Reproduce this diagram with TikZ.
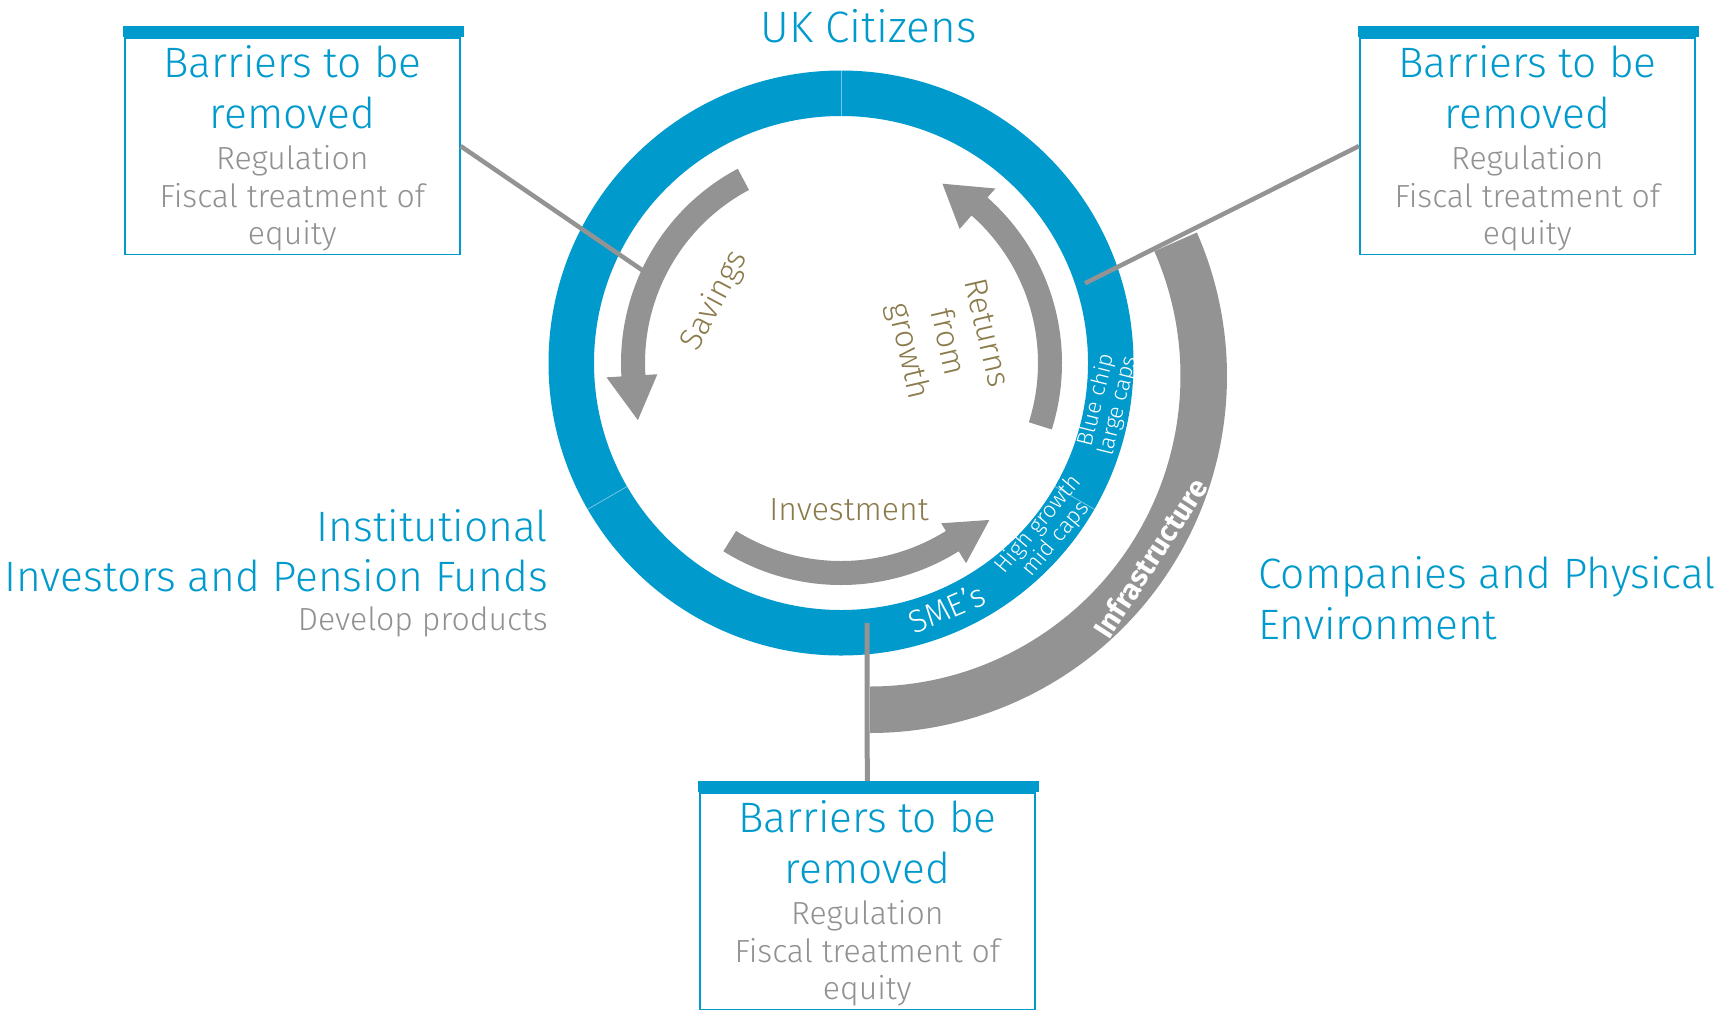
\documentclass[tikz,border=0pt]{standalone}
\usepackage{fontspec}
\setmainfont{Fira Sans Light}
\newfontfamily\boldf{Fira Sans}
\usetikzlibrary{calc}
\definecolor{kblue}{RGB}{0,154,205}
\definecolor{kgray}{RGB}{147,147,147}
\definecolor{ktext}{RGB}{145,145,145}
\definecolor{kolive}{RGB}{139,123,76}
\begin{document}
\begin{tikzpicture}[x=1pt,y=1pt,
  hdr/.style={text=kblue, font=\fontsize{42.5}{50}\selectfont, inner sep=0pt},
  sub/.style={text=ktext, font=\fontsize{32}{38}\selectfont, inner sep=0pt},
  flow/.style={text=kolive, font=\fontsize{32}{40}\selectfont, inner sep=0pt},
  ringlbl/.style={text=white, font=\fontsize{22.5}{20.5}\selectfont, align=center, inner sep=0pt},
  boxframe/.style={draw=kblue, line width=1.6pt, minimum width=335pt, minimum height=216.5pt, inner sep=0pt, anchor=north west},
  conn/.style={draw=kgray, line width=4.5pt},
  boxbar/.style={fill=kblue}
]
\fill[white] (0,0) rectangle (1730,-1009);
\coordinate (C) at (841,-363);
\coordinate (G) at (870,-376);

% blue ring
\fill[kblue, even odd rule] (C) circle[radius=292.5] circle[radius=247];
\foreach \a in {90,210,-30}
  \draw[white, opacity=0.45, line width=0.8pt] ($(C)+(\a:247)$) -- ($(C)+(\a:292.5)$);

% infrastructure band
\begin{scope}[shift={(G)}]
\fill[kgray] (-90:357) arc[start angle=-90, end angle=23.7, radius=357]
  -- (23.7:310.5) arc[start angle=23.7, end angle=-90, radius=310.5] -- cycle;
\end{scope}

% flow arrows
\begin{scope}[shift={(C)}]
\fill[kgray] (118:220) arc[start angle=118, end angle=183.5, radius=220]
  -- (183.5:235) -- (195.7:211) -- (183.5:184) -- (183.5:196)
  arc[start angle=183.5, end angle=118, radius=196] -- cycle;
\fill[kgray] (-17.5:221) arc[start angle=-17.5, end angle=48.5, radius=221]
  -- (48.5:233) -- (60.5:206) -- (48.5:179) -- (48.5:197)
  arc[start angle=48.5, end angle=-17.5, radius=197] -- cycle;
\fill[kgray] (238:222) arc[start angle=238, end angle=302, radius=222]
  -- (302:236) -- (313.4:216) -- (302:189) -- (302:198)
  arc[start angle=302, end angle=238, radius=198] -- cycle;
\end{scope}

% boxes
\node[boxframe] (bl) at (124,-37) {};
\node[boxframe] (br) at (1359,-37) {};
\node[boxframe] (bb) at (699,-792) {};

% connectors
\coordinate (lend) at (642,-270);
\coordinate (rend) at (1085,-283.3);
\coordinate (bend) at (867,-623);
\draw[conn] (bl.east) -- (lend);
\draw[conn] (br.west) -- (rend);
\draw[conn, line width=5pt] (bb.north) -- (bend);

\foreach \b in {bl,br,bb}
  \fill[boxbar] ($(\b.north west)+(-0.8,11.3)$) rectangle ($(\b.north east)+(3,0)$);

% box texts
\foreach \b in {bl,br,bb}{
  \node[hdr, anchor=base] (\b1) at ($(\b.north)+(0,-40.5)$) {Barriers to be};
  \node[hdr, anchor=base] (\b2) at ($(\b.north)+(0,-91.8)$) {removed};
  \node[sub, anchor=base] (\b3) at ($(\b.north)+(0,-132.8)$) {Regulation};
  \node[sub, anchor=base] (\b4) at ($(\b.north)+(0,-170.5)$) {Fiscal treatment of};
  \node[sub, anchor=base] (\b5) at ($(\b.north)+(0,-207.2)$) {equity};
}

% outer labels
\node[hdr, font=\fontsize{44}{50}\selectfont, anchor=base] (uk) at (868.5,-42.3) {UK Citizens};
\node[hdr, anchor=base east] (inst1) at (548,-541) {Institutional};
\node[hdr, anchor=base east] (inst2) at (548,-591) {Investors and Pension Funds};
\node[sub, anchor=base east] (inst3) at (548,-630.7) {Develop products};
\node[hdr, anchor=base west] (comp1) at (1258,-588.3) {Companies and Physical};
\node[hdr, anchor=base west] (comp2) at (1258,-639.3) {Environment};

% inner flow labels
\node[flow, rotate=62] (sav) at (715,-301) {Savings};
\node[flow, rotate=-77, align=center] (ret) at (945.7,-342.6) {Returns\\from\\growth};
\node[flow, anchor=base] (inv) at (849,-520.5) {Investment};

% ring labels
\node[ringlbl, font=\fontsize{32}{32}\selectfont, rotate=23] (sme) at (946.7,-608.3) {SME’s};
\node[ringlbl, rotate=50] (hg) at (1047.5,-532) {High growth\\mid caps};
\node[ringlbl, rotate=76] (bc) at (1107.5,-403) {Blue chip\\large caps};
\node[text=white, font=\boldf\bfseries\fontsize{29}{30}\selectfont, rotate=57, inner sep=0pt] (inf) at ($(G)+(-33:334)$) {Infrastructure};
\end{tikzpicture}
\end{document}
